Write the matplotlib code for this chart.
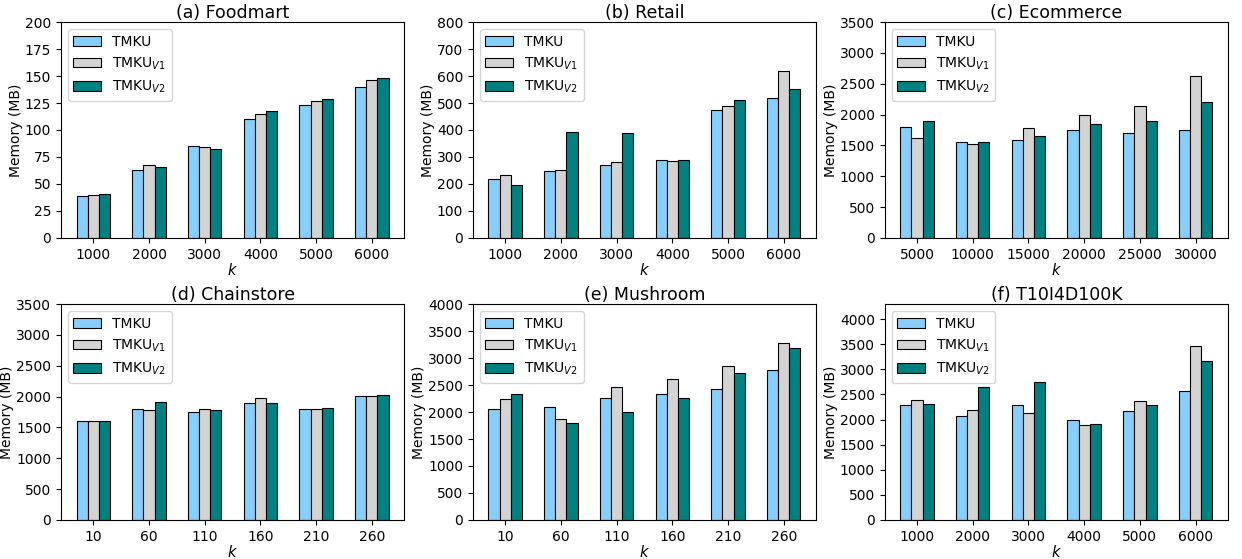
import numpy as np
import matplotlib
matplotlib.use('Agg')
import matplotlib.pyplot as plt
from matplotlib.ticker import MultipleLocator

# Data per dataset
titles = ['(a) Foodmart', '(b) Retail', '(c) Ecommerce',
          '(d) Chainstore', '(e) Mushroom', '(f) T10I4D100K']
k_values = [
    ['1000', '2000', '3000', '4000', '5000', '6000'],
    ['1000', '2000', '3000', '4000', '5000', '6000'],
    ['5000', '10000', '15000', '20000', '25000', '30000'],
    ['10', '60', '110', '160', '210', '260'],
    ['10', '60', '110', '160', '210', '260'],
    ['1000', '2000', '3000', '4000', '5000', '6000'],
]
tmku = [
    [39, 63, 85, 110, 123, 140],
    [217, 248, 272, 287, 475, 520],
    [1800, 1550, 1580, 1745, 1700, 1755],
    [1600, 1800, 1750, 1890, 1800, 2010],
    [2050, 2090, 2260, 2340, 2430, 2780],
    [2280, 2070, 2280, 1990, 2170, 2560],
]
tmku_v1 = [
    [40, 68, 84, 115, 127, 146],
    [234, 250, 280, 284, 490, 618],
    [1615, 1530, 1775, 2000, 2140, 2625],
    [1600, 1780, 1800, 1980, 1800, 2010],
    [2250, 1870, 2460, 2620, 2850, 3270],
    [2390, 2200, 2140, 1900, 2360, 3460],
]
tmku_v2 = [
    [41, 66, 82, 118, 129, 148],
    [197, 392, 390, 290, 510, 552],
    [1900, 1560, 1660, 1840, 1900, 2210],
    [1610, 1910, 1790, 1900, 1810, 2030],
    [2330, 1790, 2000, 2260, 2730, 3180],
    [2310, 2650, 2740, 1910, 2290, 3170],
]
y_limits = [200, 800, 3500, 3500, 4000, 4300]
y_steps = [25, 100, 500, 500, 500, 500]

labels = ['TMKU', r'TMKU$_{\mathit{V1}}$', r'TMKU$_{\mathit{V2}}$']
colors = ['#87CEFA', '#D3D3D3', '#008080']

fig, axes = plt.subplots(2, 3, figsize=(12.42, 5.59), dpi=100)
width = 0.2

for i, ax in enumerate(axes.flat):
    x = np.arange(len(k_values[i]))
    series = [tmku[i], tmku_v1[i], tmku_v2[i]]
    for j, vals in enumerate(series):
        ax.bar(x + (j - 1) * width, vals, width, color=colors[j],
               edgecolor='black', linewidth=0.8, label=labels[j])
    ax.set_xticks(x)
    ax.set_xticklabels(k_values[i])
    ax.set_ylim(0, y_limits[i])
    ax.yaxis.set_major_locator(MultipleLocator(y_steps[i]))
    ax.set_title(titles[i], fontsize=12.5, pad=3)
    ax.set_xlabel('$k$', fontsize=10.5, labelpad=0)
    ax.set_ylabel('Memory (MB)', fontsize=10, labelpad=1.5)
    ax.tick_params(labelsize=10)
    ax.legend(loc='upper left', fontsize=10)

plt.subplots_adjust(left=0.0491, right=0.9887, top=0.9606, bottom=0.0698,
                    wspace=0.2, hspace=0.306)
plt.savefig('out.png')
